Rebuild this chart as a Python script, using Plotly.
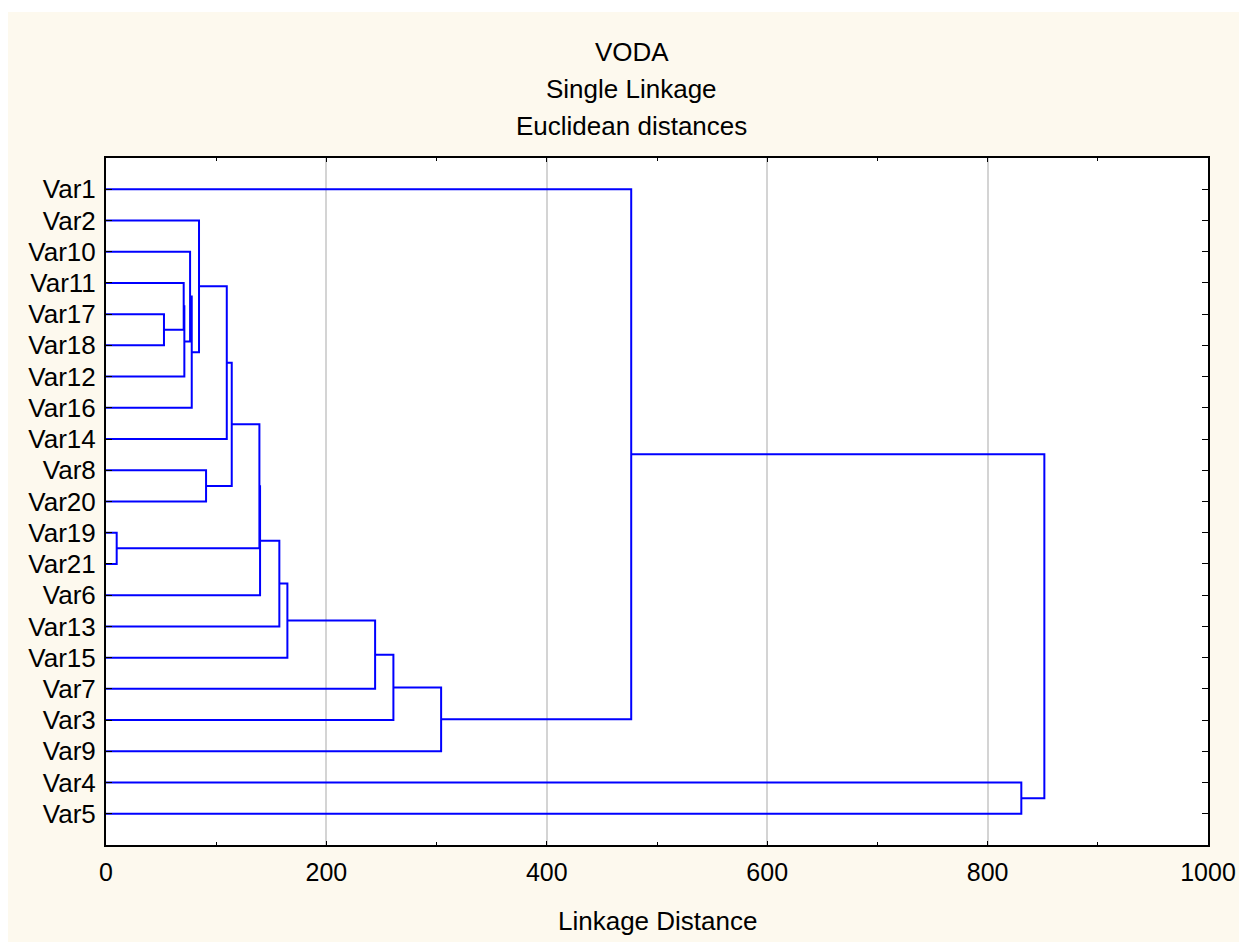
import plotly.graph_objects as go

# Leaf order (top to bottom) and agglomeration steps
leaves = ["Var1", "Var2", "Var10", "Var11", "Var17", "Var18", "Var12", "Var16",
          "Var14", "Var8", "Var20", "Var19", "Var21", "Var6", "Var13", "Var15",
          "Var7", "Var3", "Var9", "Var4", "Var5"]

# merge k creates cluster "Ck" from merge_a[k-1] and merge_b[k-1]
merge_a = ["Var17", "Var11", "C2", "Var10", "C4", "Var2", "C6", "Var8", "C7", "Var19",
           "C9", "C11", "C12", "C13", "C14", "C15", "C16", "Var1", "Var4", "C18"]
merge_b = ["Var18", "C1", "Var12", "C3", "Var16", "C5", "Var14", "Var20", "C8", "Var21",
           "C10", "Var6", "Var13", "Var15", "Var7", "Var3", "Var9", "C17", "Var5", "C19"]
merge_dist = [52.6, 70.5, 71.1, 76.3, 77.8, 84.4, 109.6, 90.8, 114.1, 9.7,
              139.2, 139.8, 157.3, 164.6, 244.2, 260.8, 304.1, 476.6, 830.6, 851.5]

x_ticks = [0, 200, 400, 600, 800, 1000]
title_lines = ["VODA", "Single Linkage", "Euclidean distances"]

# node positions: (height, row)
pos = {name: (0.0, i) for i, name in enumerate(leaves)}
xs, ys = [], []
for k, (a, b, d) in enumerate(zip(merge_a, merge_b, merge_dist), start=1):
    ha, ya = pos[a]
    hb, yb = pos[b]
    xs += [ha, d, d, hb, None]
    ys += [ya, ya, yb, yb, None]
    pos["C%d" % k] = (d, (ya + yb) / 2)

fig = go.Figure()
fig.add_trace(go.Scatter(x=xs, y=ys, mode="lines",
                         line=dict(color="#0000FF", width=2),
                         hoverinfo="skip", showlegend=False))

font = "Arial, Liberation Sans, sans-serif"
cream = "#FDF9EE"

annotations = []
for i, t in enumerate(title_lines):
    annotations.append(dict(text=t, xref="paper", yref="paper",
                            x=(631.5 - 106) / 1102, y=(845 - 52 - 37 * i) / 687,
                            xanchor="center", yanchor="middle", showarrow=False,
                            font=dict(family=font, size=26, color="black")))
annotations.append(dict(text="Linkage Distance", xref="paper", yref="paper",
                        x=0.5, y=(845 - 921) / 687, xanchor="center", yanchor="middle",
                        showarrow=False, font=dict(family=font, size=26, color="black")))

fig.update_layout(
    autosize=False, width=1239, height=942,
    margin=dict(l=106, r=31, t=158, b=97),
    paper_bgcolor=cream, plot_bgcolor="white",
    font=dict(family=font, size=25, color="black"),
    annotations=annotations,
    shapes=[
        dict(type="rect", xref="paper", yref="paper", x0=-0.2, x1=1.1,
             y0=(845 - 12) / 687, y1=1.3, fillcolor="white", line_width=0, layer="below"),
        dict(type="rect", xref="paper", yref="paper", x0=-0.2, x1=(8 - 106) / 1102,
             y0=-0.2, y1=1.3, fillcolor="white", line_width=0, layer="below"),
    ],
)

# automargin off: the template would otherwise widen the right margin for "1000"
fig.update_xaxes(range=[0, 1000], tickvals=x_ticks, showgrid=True, automargin=False,
                 gridcolor="#D4D4D4", gridwidth=1.5, zeroline=False,
                 showline=True, linecolor="black", linewidth=2, mirror="allticks",
                 ticks="inside", ticklen=4, tickcolor="black",
                 minor=dict(dtick=100, ticks="inside", ticklen=3, tickcolor="black", showgrid=False),
                 ticklabelstandoff=4, ticklabeloverflow="allow")
fig.update_yaxes(range=[21, -1], tickvals=list(range(len(leaves))), ticktext=leaves,
                 showgrid=False, zeroline=False, tickfont=dict(size=26), automargin=False,
                 showline=True, linecolor="black", linewidth=2, mirror="allticks",
                 ticks="inside", ticklen=6, tickcolor="black", ticklabelstandoff=3)

# drop the default page margin and scrollbars so the figure sits at the window corner
fig.write_html("out.html", config={"responsive": False, "displayModeBar": False},
               post_script="document.body.style.margin='0px';"
                           "document.documentElement.style.overflow='hidden';"
                           "document.body.style.overflow='hidden';")
